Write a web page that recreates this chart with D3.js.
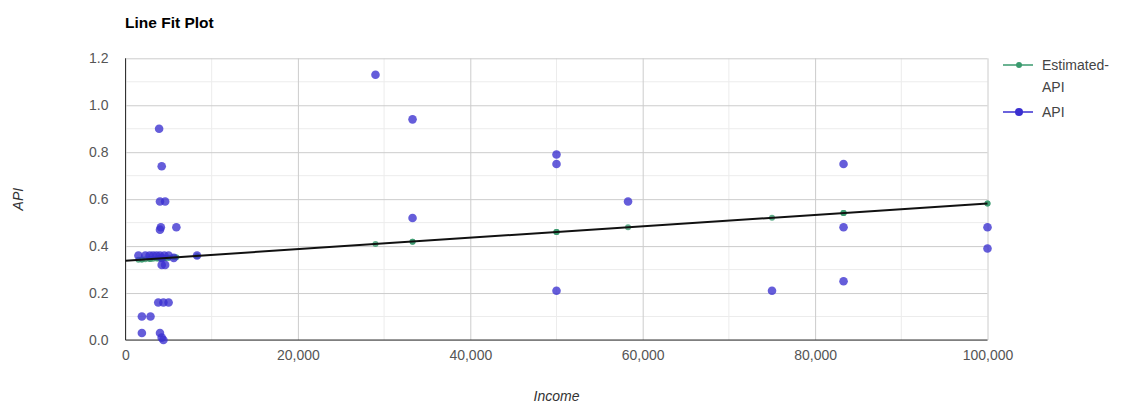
<!DOCTYPE html>
<html>
<head>
<meta charset="utf-8">
<script src="https://cdn.jsdelivr.net/npm/d3@7"></script>
<style>
  body { margin: 0; background: #fff; }
  svg { font-family: "Liberation Sans", Arial, sans-serif; }
</style>
</head>
<body>
<svg id="fit"></svg>
<script>
    const svg_width = 1122;
    const svg_height = 404;

    var margin = {
      top: 58.3,
      right: 134.5,
      bottom: 64,
      left: 125.5
    };

    // data
    var income = [3900, 4200, 4000, 4600, 4000, 4100, 5900, 1500, 2300, 2800,
                  3200, 3600, 4000, 4500, 5000, 5600, 8300, 4200, 4200, 4600,
                  3800, 4400, 5000, 1900, 2900, 1900, 4000, 4200, 4400,
                  29000, 33300, 33300, 50000, 50000, 50000, 58300, 75000,
                  83300, 83300, 83300, 100000, 100000];
    var api = [0.90, 0.74, 0.59, 0.59, 0.47, 0.48, 0.48, 0.36, 0.36, 0.36,
               0.36, 0.36, 0.36, 0.36, 0.36, 0.35, 0.36, 0.35, 0.32, 0.32,
               0.16, 0.16, 0.16, 0.10, 0.10, 0.03, 0.03, 0.01, 0.00,
               1.13, 0.94, 0.52, 0.79, 0.75, 0.21, 0.59, 0.21,
               0.75, 0.48, 0.25, 0.48, 0.39];
    var estimated = [0.348, 0.348, 0.348, 0.349, 0.348, 0.348, 0.352, 0.342, 0.344, 0.345,
                     0.346, 0.347, 0.348, 0.349, 0.350, 0.352, 0.358, 0.348, 0.348, 0.349,
                     0.347, 0.349, 0.350, 0.343, 0.345, 0.343, 0.348, 0.348, 0.349,
                     0.409, 0.419, 0.419, 0.460, 0.460, 0.460, 0.480, 0.521,
                     0.541, 0.541, 0.541, 0.582, 0.582];

    var x_ticks = [0, 20000, 40000, 60000, 80000, 100000];
    var y_ticks = [0, 0.2, 0.4, 0.6, 0.8, 1.0, 1.2];
    var series_names = ["Estimated-API", "API"];

    var est_color = "#3a9a6e";
    var api_color = "#3a2fd0";

    var width = svg_width - margin.left - margin.right;
    var height = svg_height - margin.top - margin.bottom;

    var svg = d3.select("svg#fit")
        .attr("width", svg_width)
        .attr("height", svg_height);

    var x = d3.scaleLinear().domain([0, 100000]).range([0, width]);
    var y = d3.scaleLinear().domain([0, 1.2]).range([height, 0]);

    var g = svg.append("g")
        .attr("transform", translate(margin.left, margin.top));

    // minor grid
    g.append("g")
      .selectAll("line")
      .data(d3.range(10000, 100000, 20000))
      .enter().append("line")
      .attr("x1", d => x(d)).attr("x2", d => x(d))
      .attr("y1", 0).attr("y2", height)
      .attr("stroke", "#ececec");

    g.append("g")
      .selectAll("line")
      .data([0.1, 0.3, 0.5, 0.7, 0.9, 1.1])
      .enter().append("line")
      .attr("x1", 0).attr("x2", width)
      .attr("y1", d => y(d)).attr("y2", d => y(d))
      .attr("stroke", "#ececec");

    // major grid
    var xAxis = d3.axisBottom(x)
        .tickValues(x_ticks)
        .tickSize(-height)
        .tickPadding(10)
        .tickFormat(d3.format(","));

    var yAxis = d3.axisLeft(y)
        .tickValues(y_ticks)
        .tickSize(-width)
        .tickPadding(17)
        .tickFormat(d3.format(".1f"));

    var gx = g.append("g")
      .attr("transform", translate(0, height))
      .call(xAxis);

    var gy = g.append("g")
      .call(yAxis);

    [gx, gy].forEach(function(a) {
      a.select(".domain").remove();
      a.selectAll(".tick line").attr("stroke", "#cccccc");
      a.selectAll(".tick text")
        .attr("fill", "#555")
        .style("font-size", "14px");
    });

    // axis lines
    g.append("line")
      .attr("x1", 0).attr("x2", 0)
      .attr("y1", 0).attr("y2", height)
      .attr("stroke", "#333");
    g.append("line")
      .attr("x1", 0).attr("x2", width)
      .attr("y1", y(0)).attr("y2", y(0))
      .attr("stroke", "#333");

    var points = income.map((d, i) => ({income: d, api: api[i], est: estimated[i]}));

    g.selectAll("circle.est")
      .data(points)
      .enter()
      .append("circle")
      .attr("class", "est")
      .attr("cx", d => x(d.income))
      .attr("cy", d => y(d.est))
      .attr("r", 3)
      .attr("fill", est_color)
      .attr("fill-opacity", 0.8);

    g.selectAll("circle.api")
      .data(points)
      .enter()
      .append("circle")
      .attr("class", "api")
      .attr("cx", d => x(d.income))
      .attr("cy", d => y(d.api))
      .attr("r", 4.3)
      .attr("fill", api_color)
      .attr("fill-opacity", 0.78);

    // linear trend through the estimated values
    var mx = d3.mean(points, d => d.income);
    var my = d3.mean(points, d => d.est);
    var slope = d3.sum(points, d => (d.income - mx) * (d.est - my)) /
                d3.sum(points, d => (d.income - mx) * (d.income - mx));
    var icept = my - slope * mx;

    g.append("line")
      .attr("x1", x(0))
      .attr("y1", y(icept))
      .attr("x2", x(100000))
      .attr("y2", y(icept + slope * 100000))
      .attr("stroke", "#111")
      .attr("stroke-width", 2);

    // title and axis labels
    svg.append("text")
      .attr("x", 125)
      .attr("y", 28)
      .style("font-size", "15.5px")
      .style("font-weight", "bold")
      .attr("fill", "#000")
      .text("Line Fit Plot");

    svg.append("text")
      .attr("transform", translate(23, margin.top + height / 2) + " rotate(-90)")
      .attr("text-anchor", "middle")
      .style("font-size", "14px")
      .style("font-style", "italic")
      .attr("fill", "#333")
      .text("API");

    svg.append("text")
      .attr("x", margin.left + width / 2)
      .attr("y", 401)
      .attr("text-anchor", "middle")
      .style("font-size", "14px")
      .style("font-style", "italic")
      .attr("fill", "#333")
      .text("Income");

    // legend
    var legend = svg.append("g").attr("transform", translate(1003, 0));
    var legend_rows = [
      {name: series_names[0], color: est_color, r: 3, y: 65},
      {name: series_names[1], color: api_color, r: 4, y: 112}
    ];

    legend_rows.forEach(function(row, i) {
      legend.append("line")
        .attr("x1", 0).attr("x2", 30)
        .attr("y1", row.y).attr("y2", row.y)
        .attr("stroke", row.color)
        .attr("stroke-width", 1.5);
      legend.append("circle")
        .attr("cx", 16).attr("cy", row.y)
        .attr("r", row.r)
        .attr("fill", row.color);
      var t = legend.append("text")
        .attr("x", 39)
        .attr("y", row.y + 5)
        .style("font-size", "14px")
        .attr("fill", "#444");
      if (i === 0) {
        t.append("tspan").attr("x", 39).text("Estimated-");
        t.append("tspan").attr("x", 39).attr("dy", 22).text("API");
      } else {
        t.text(row.name);
      }
    });

    function translate(x, y) {
      return 'translate(' + String(x) + ',' + String(y) + ')';
    }
</script>
</body>
</html>
